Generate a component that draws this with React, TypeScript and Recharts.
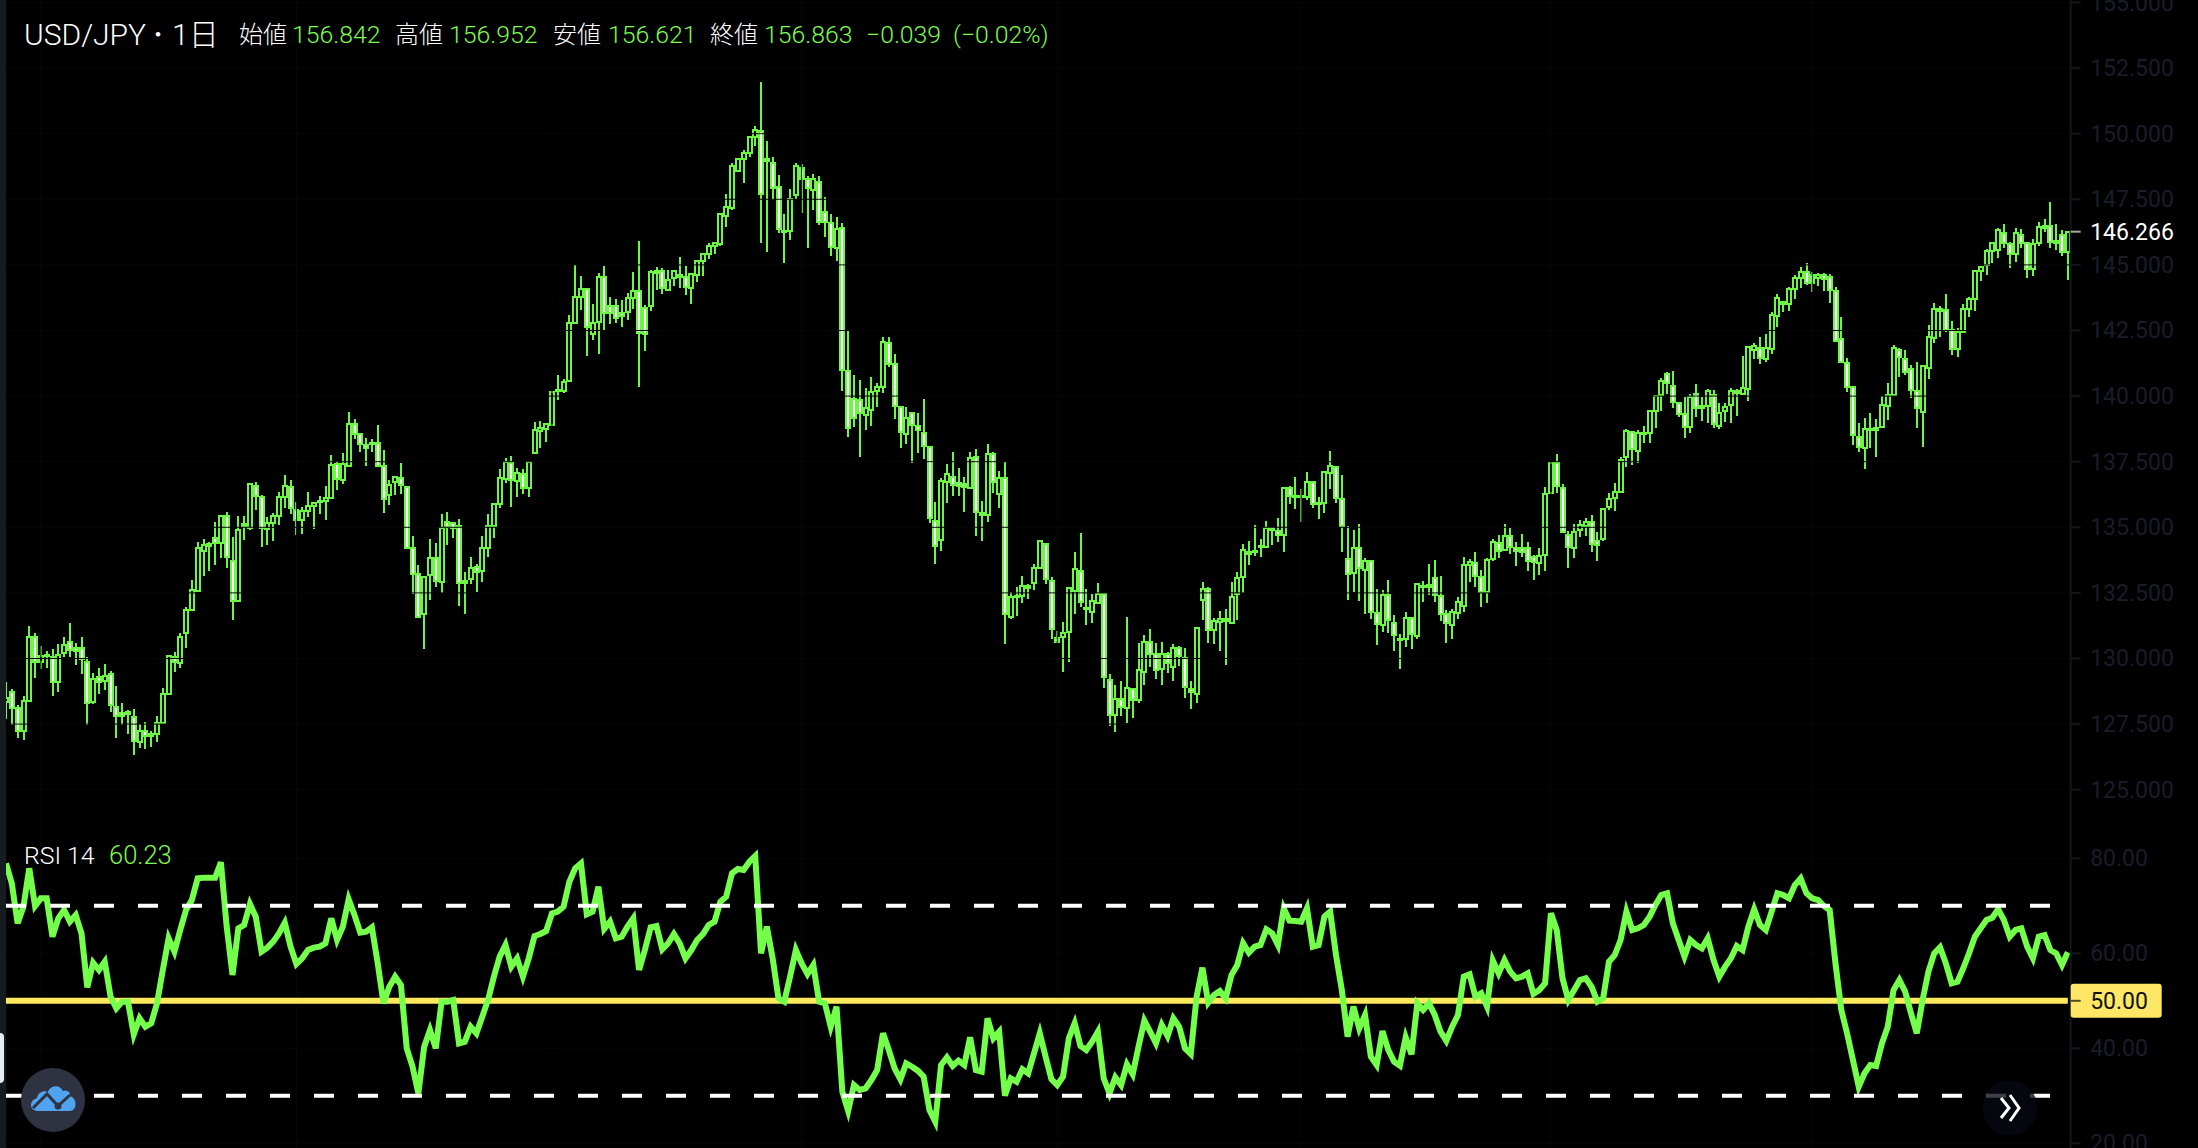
import React from "react";
import { ComposedChart, Bar, Line, XAxis, YAxis, ReferenceLine } from "recharts";

const opens = [
128.35,128.73,128.10,127.24,128.39,130.81,129.85,130.08,130.07,129.09,
130.20,130.64,130.39,130.41,129.88,128.33,129.28,129.14,129.40,128.16,
127.91,127.87,127.78,126.80,127.24,127.11,127.12,127.55,128.65,130.07,
129.81,130.96,131.85,132.58,134.11,134.30,134.60,134.42,135.44,133.73,
132.19,135.06,134.98,136.58,136.17,134.93,135.17,135.43,136.14,136.55,
135.66,135.28,135.63,135.83,135.95,136.01,136.10,137.41,136.80,137.33,
138.92,138.55,138.13,138.17,138.20,137.33,136.23,136.74,136.89,136.52,
134.22,133.22,131.69,133.18,133.84,132.93,135.21,135.15,135.06,132.86,
133.02,133.47,133.33,134.22,135.05,135.89,136.84,137.44,136.76,137.03,
136.51,137.82,138.67,138.75,138.90,140.18,140.21,140.58,142.78,143.79,
144.10,142.36,142.84,144.53,143.44,143.44,143.18,143.22,143.73,144.02,
143.35,143.44,144.68,144.78,144.05,144.49,144.55,144.53,144.11,144.62,
145.15,145.41,145.72,145.80,146.87,147.18,148.58,149.02,149.25,149.89,
150.12,149.03,148.90,147.96,146.31,146.29,147.67,148.68,148.26,147.86,
148.17,147.03,146.61,145.63,146.40,140.97,139.89,139.85,139.28,139.47,
140.20,140.34,142.04,141.22,139.58,138.56,139.37,138.87,138.61,138.05,
135.25,134.52,136.74,136.93,136.68,136.65,136.51,137.67,135.56,135.47,
137.78,136.27,136.89,131.57,132.33,132.38,132.68,132.87,133.44,134.37,
132.97,130.80,130.81,131.00,132.59,133.35,131.91,131.79,132.10,132.45,
129.18,127.83,128.46,128.11,128.84,128.42,129.48,130.61,130.16,129.59,
130.17,129.67,130.39,130.03,128.84,128.65,132.23,132.64,131.09,131.39,
131.51,131.37,132.46,133.12,134.07,134.04,134.26,134.26,134.96,134.84,
134.71,136.49,136.21,136.15,136.17,136.71,135.94,135.94,137.08,137.31,
136.08,133.78,133.25,134.20,133.37,133.73,131.75,131.28,132.42,131.37,
130.71,130.73,131.53,130.86,132.71,132.74,133.08,132.40,131.70,131.28,
131.72,132.00,133.56,133.65,133.09,132.55,133.78,134.41,134.13,134.68,
134.20,134.20,134.20,133.86,133.63,133.94,136.29,137.46,136.51,134.71,
134.20,134.90,135.05,135.19,134.49,134.54,135.79,136.10,136.36,137.67,
138.64,137.91,138.56,138.58,139.43,140.04,140.83,140.40,139.72,139.32,
138.81,140.08,139.62,139.62,140.05,138.86,139.43,139.66,140.10,140.08,
140.26,141.75,141.84,141.40,141.80,143.05,143.60,143.51,144.07,144.49,
144.74,144.62,144.49,144.62,144.55,144.00,142.17,141.28,140.34,138.46,
138.01,138.69,138.71,138.81,139.62,140.04,141.76,141.41,141.02,140.21,
139.41,141.06,142.20,143.25,143.28,142.50,141.78,142.46,143.31,143.69,
144.78,144.99,145.54,145.57,146.23,145.78,145.42,146.14,145.82,144.83,
145.85,146.39,146.50,145.91,146.14,145.50];

const closes = [
128.48,128.10,127.24,128.39,130.83,129.85,130.11,130.13,129.09,130.13,
130.51,130.32,130.30,129.97,128.32,129.22,129.12,129.34,128.23,127.81,
127.82,127.97,126.86,127.24,127.06,127.06,127.55,128.65,130.11,129.85,
130.81,131.85,132.61,134.22,134.32,134.35,134.42,135.43,133.88,132.19,
134.90,135.11,136.65,136.19,134.98,135.17,135.43,136.14,136.58,135.72,
135.28,135.63,135.82,135.91,136.00,136.10,137.37,136.84,137.41,138.92,
138.55,138.16,138.03,138.23,137.33,136.06,136.61,136.90,136.61,134.22,
133.22,131.59,133.09,133.84,132.95,134.98,135.02,134.96,132.86,132.95,
133.46,133.31,134.22,135.06,135.87,136.86,137.50,136.80,137.08,136.51,
137.50,138.71,138.77,138.94,140.17,140.24,140.55,142.80,143.77,144.07,
142.62,142.80,144.53,143.16,143.16,142.97,143.06,143.73,144.02,142.40,
142.36,144.72,144.78,144.11,144.43,144.78,144.62,144.15,144.66,145.13,
145.41,145.72,145.85,146.94,147.22,148.75,149.02,149.25,149.89,150.14,
147.69,148.97,147.92,146.36,146.26,147.50,148.75,148.26,147.92,148.26,
146.65,146.65,145.67,146.36,141.00,138.78,139.18,139.35,139.56,140.17,
140.36,142.07,141.23,139.63,138.65,139.16,138.90,138.71,138.10,135.34,
134.30,136.78,137.03,136.61,136.59,136.55,137.63,135.57,135.47,137.78,
136.72,136.89,131.70,132.36,132.40,132.77,132.78,133.46,134.48,133.02,
131.11,130.64,130.96,132.68,133.41,132.14,131.88,132.21,132.46,129.31,
127.85,128.46,128.17,128.87,128.42,129.57,130.64,130.16,129.57,130.17,
129.82,130.39,130.11,128.90,128.74,131.15,132.64,131.09,131.41,131.50,
131.41,132.36,133.06,134.14,133.97,134.10,134.29,134.96,134.90,134.71,
136.49,136.21,136.17,136.19,136.71,135.89,135.91,137.12,137.35,136.10,
135.06,133.21,134.22,133.44,133.72,131.79,131.30,132.42,131.47,130.90,
130.75,131.53,130.93,132.83,132.76,132.80,132.42,131.70,131.34,131.76,
132.17,133.56,133.66,133.14,132.55,133.75,134.45,134.11,134.67,134.24,
134.11,134.05,133.72,133.69,133.91,136.27,137.44,136.57,134.81,134.24,
134.83,135.09,135.21,134.35,134.33,135.70,136.08,136.36,137.56,138.68,
137.98,138.58,138.60,139.43,140.00,140.57,140.49,139.79,139.30,138.81,
139.95,139.56,139.56,140.21,138.92,139.37,139.60,140.21,140.21,140.29,
141.88,141.92,141.44,141.82,143.09,143.73,143.51,144.07,144.49,144.74,
144.32,144.30,144.62,144.46,144.04,142.10,141.31,140.34,138.52,138.05,
138.75,138.75,138.77,139.66,140.04,141.82,141.48,140.91,140.23,139.54,
141.16,142.27,143.31,143.31,142.52,141.78,142.46,143.32,143.69,144.78,
144.93,145.54,145.82,146.33,145.82,145.42,146.23,145.85,144.83,145.80,
146.43,146.50,145.89,145.82,145.50,146.27];

const highs = [
129.12,128.82,128.23,128.57,131.24,130.96,130.48,130.29,130.35,130.54,
130.81,131.34,130.58,130.81,130.04,129.43,129.62,129.78,129.52,128.95,
128.29,128.04,128.06,127.50,127.57,127.24,127.81,128.86,130.13,130.23,
130.96,131.97,132.99,134.45,134.54,134.45,135.19,135.43,135.57,134.64,
135.43,135.43,136.67,136.71,136.23,135.38,135.53,136.36,136.99,136.80,
135.97,135.78,136.33,135.97,136.20,136.57,137.75,137.52,137.85,139.38,
139.11,138.55,138.39,138.36,138.90,137.94,136.80,136.93,137.44,136.55,
134.67,133.56,133.12,134.54,134.39,135.49,135.57,135.21,135.30,133.28,
133.88,133.59,134.67,135.49,135.89,137.21,137.63,137.72,137.25,137.21,
137.50,139.00,139.06,138.99,140.20,140.81,140.64,143.09,145.00,144.58,
144.11,143.50,144.68,144.96,143.79,143.69,143.67,143.92,144.74,145.91,
143.46,144.81,144.91,144.87,144.81,144.78,145.29,144.96,144.68,145.13,
145.47,145.82,145.89,146.97,147.69,148.87,149.09,149.38,149.89,150.29,
151.96,149.72,149.10,148.43,146.94,147.88,148.87,148.83,148.39,148.45,
148.40,147.58,146.94,146.82,146.58,142.48,140.81,140.62,140.30,140.72,
140.49,142.24,142.24,141.61,139.60,139.58,139.38,139.34,139.88,138.07,
135.98,136.87,137.41,137.86,137.25,136.93,137.88,137.97,136.00,138.18,
137.86,137.15,137.48,132.52,132.74,133.15,132.83,133.60,134.52,134.42,
133.10,131.05,131.38,132.71,134.05,134.77,132.64,132.46,132.87,132.49,
129.40,129.00,129.15,131.57,128.87,130.58,130.90,131.11,130.58,130.62,
130.24,130.54,130.49,130.39,129.15,131.19,132.91,132.71,131.53,131.81,
131.88,132.91,133.31,134.37,134.48,135.09,134.56,135.24,135.03,135.34,
136.52,136.58,136.91,136.46,137.09,136.71,136.17,137.16,137.91,137.35,
137.00,135.05,134.90,135.13,133.82,133.75,132.64,132.61,132.99,131.66,
130.92,131.76,131.56,132.86,132.95,133.59,133.75,133.14,131.85,131.89,
132.36,133.86,133.79,134.05,133.37,133.82,134.54,134.71,135.11,134.96,
134.45,134.73,134.45,133.94,134.20,136.55,137.50,137.79,136.64,134.87,
135.13,135.28,135.34,135.47,134.83,135.72,136.32,136.67,137.69,138.73,
138.64,138.71,138.87,139.43,140.02,140.70,140.90,140.95,139.75,139.95,
140.08,140.45,139.98,140.26,140.23,139.72,139.75,140.29,140.26,141.53,
141.91,142.01,142.24,142.35,143.22,143.88,143.64,144.17,144.61,144.91,
145.06,144.74,144.70,144.70,144.64,144.17,143.00,141.44,140.36,138.96,
139.15,139.37,139.12,140.01,140.49,141.95,141.82,141.76,141.19,141.31,
141.16,142.71,143.53,143.43,143.88,142.87,142.58,143.50,143.76,144.80,
144.97,145.59,145.89,146.39,146.56,145.89,146.39,146.35,145.89,145.97,
146.62,146.74,147.38,146.56,146.33,146.27];

const lows = [
127.69,127.47,126.98,126.89,128.36,129.27,129.59,129.62,128.58,128.73,
130.07,130.07,129.75,129.41,127.47,128.27,128.65,128.80,127.97,126.98,
127.47,127.12,126.32,126.60,126.54,126.64,126.83,127.53,128.65,129.47,
129.62,130.41,131.85,132.58,133.15,133.35,133.56,133.82,133.46,131.47,
132.16,134.51,134.90,135.66,134.26,134.32,134.48,135.09,135.72,135.51,
134.70,134.74,135.40,134.93,135.50,135.28,136.10,136.42,136.65,137.33,
138.35,137.88,137.33,137.88,137.31,135.56,135.85,136.23,136.27,134.20,
132.46,131.57,130.37,132.23,132.74,132.48,134.32,134.58,132.00,131.69,
132.84,132.55,132.93,133.88,134.60,135.72,136.68,135.79,136.17,136.27,
136.17,137.78,138.03,138.26,138.85,139.86,140.11,140.55,142.74,143.28,
141.51,142.14,141.61,142.52,142.75,142.77,142.65,142.90,143.31,140.33,
141.72,143.26,144.05,143.89,144.05,144.20,144.11,143.86,143.51,144.36,
144.58,145.23,145.42,145.72,146.46,147.09,148.58,148.13,149.10,149.53,
145.85,145.51,147.47,146.23,145.09,145.95,147.50,146.99,145.66,147.09,
146.52,146.08,145.32,145.16,140.21,138.46,138.81,137.66,138.71,138.86,
139.58,140.13,141.10,139.14,138.04,138.18,137.46,137.85,137.62,135.18,
133.60,134.11,135.94,136.19,136.19,135.60,136.49,134.65,134.49,135.22,
136.30,135.75,130.56,131.51,131.62,132.13,132.28,132.61,133.44,132.84,
130.75,130.61,129.50,129.88,131.69,131.98,131.28,131.37,132.08,128.87,
127.44,127.18,127.79,127.53,127.75,128.32,129.00,129.67,129.22,129.00,
129.46,129.16,129.72,128.51,128.07,128.32,131.47,130.60,130.56,130.30,
129.76,131.34,131.47,132.49,133.57,133.91,133.88,134.24,134.33,134.45,
134.04,135.89,135.70,135.21,136.04,135.72,135.33,135.53,136.46,135.94,
134.07,132.23,132.52,132.19,131.70,131.51,130.52,131.02,130.96,130.30,
129.61,130.45,130.36,130.73,132.17,132.42,132.17,131.44,130.60,130.76,
131.51,131.78,132.93,132.71,131.98,132.13,133.73,133.84,134.11,133.98,
133.54,133.88,133.35,132.99,133.18,133.35,136.29,136.29,134.81,133.46,
133.84,134.62,134.67,134.07,133.73,134.49,135.66,135.63,136.32,137.29,
137.37,137.46,138.22,138.22,138.80,139.43,140.08,139.56,139.21,138.42,
138.58,139.21,139.06,138.99,138.77,138.73,139.02,138.99,139.25,140.04,
139.81,141.40,141.21,141.29,141.59,142.65,143.22,143.26,143.69,144.13,
144.23,143.98,144.20,144.02,143.56,142.07,141.27,140.14,138.14,137.88,
137.21,138.01,137.67,138.80,139.09,140.00,140.74,140.81,139.92,138.77,
138.05,140.65,142.04,142.24,142.46,141.57,141.50,142.43,143.00,143.26,
144.40,144.62,145.06,145.25,145.63,144.90,145.12,145.63,144.51,144.59,
145.72,146.27,145.63,145.57,145.34,144.43];

const rsiValues = [
78.94,74.73,66.31,69.82,77.89,69.96,71.57,71.57,63.5,67.36,
69.12,66.66,68.06,64.2,52.83,58.03,56.48,58.24,50.87,48.41,
49.82,49.82,42.94,46.31,44.55,45.26,49.47,56.48,63.15,60.34,
64.91,69.12,71.22,75.78,75.92,75.92,75.92,79.15,65.61,55.43,
65.26,65.96,70.38,67.71,60.34,61.19,62.45,64.2,66.45,61.4,
57.75,58.94,60.69,61.19,61.4,62.1,67.36,62.8,65.61,71.36,
68.06,64.34,64.55,65.47,57.89,49.47,52.97,55.08,53.33,39.99,
36.13,30.52,40.34,43.85,39.99,49.82,49.82,50.17,41.05,41.4,
44.55,43.15,46.66,50.17,55.08,59.29,61.75,57.19,58.94,55.08,
58.94,63.64,64.06,64.69,68.41,68.77,69.82,75.08,77.89,78.94,
68.2,68.77,74.03,65.12,66.66,63.15,63.5,65.61,67.36,56.48,
60.69,65.47,65.75,60.84,62.1,64.06,62.1,58.94,60.69,62.8,
64.06,65.96,66.66,70.87,71.92,76.84,77.75,
77.54,79.29,80.49,60.0,65.61,58.94,50.52,49.82,55.08,60.69,
57.89,55.64,57.54,49.82,49.47,44.55,48.77,30.87,26.8,32.27,
31.22,31.57,33.32,35.43,43.15,39.64,35.78,33.47,36.83,36.13,
35.29,34.03,27.01,24.55,36.48,38.1,36.27,37.4,36.48,42.31,
35.43,35.08,46.31,42.1,43.5,30.03,33.68,32.97,35.57,34.73,
38.94,43.15,38.24,33.47,32.27,34.03,42.1,45.26,40.48,39.64,
41.4,43.5,33.68,30.52,33.89,32.27,36.62,34.52,40.34,45.82,
43.5,41.05,44.91,42.59,46.31,44.55,39.99,38.8,50.87,56.98,
49.61,51.22,52.06,50.52,55.43,57.54,62.1,60.13,61.4,61.75,
65.05,64.2,61.75,69.47,66.87,66.8,66.66,69.47,61.4,61.75,
67.71,68.77,59.64,52.27,42.45,48.77,44.2,47.01,38.24,36.48,
43.64,39.64,37.18,36.34,42.31,38.73,49.47,48.06,49.47,47.01,
43.5,41.54,44.55,47.01,55.08,55.57,50.87,
51.57,48.77,58.45,55.78,58.59,56.13,54.73,55.08,55.78,51.43,
52.27,53.68,68.41,64.91,54.73,50.17,52.27,54.38,54.73,52.97,
49.82,50.52,58.24,59.64,62.8,68.77,64.91,65.26,65.96,67.71,
70.17,72.27,72.63,66.31,62.8,59.29,62.8,61.75,61.05,63.15,
58.59,55.08,57.19,58.94,61.54,60.69,65.61,69.26,65.96,64.91,
68.77,72.63,72.27,71.57,74.38,75.78,72.63,71.57,71.22,69.96,
69.12,57.89,48.06,43.15,37.54,31.92,34.73,36.48,36.27,41.05,
44.55,52.27,54.38,51.92,47.36,43.15,50.17,56.13,60.0,61.26,
57.89,53.68,54.03,56.84,60.0,63.5,65.26,67.01,67.5,69.26,
67.01,63.5,64.91,65.26,61.4,58.94,63.5,63.85,60.69,60.0,
57.54,60.23];

const priceTicks = [155, 152.5, 150, 147.5, 146.266, 145, 142.5, 140, 137.5, 135, 132.5, 130, 127.5, 125];
const lastPrice = 146.266;
const priceGrid = [155, 152.5, 150, 147.5, 145, 142.5, 140, 137.5, 135, 132.5, 130, 127.5, 125];
const rsiTicks = [80, 60, 50, 40, 20];
const rsiGrid = [80, 60, 40, 20];
const rsiUpper = 70;
const rsiMiddle = 50;
const rsiLower = 30;
const monthCandles = [6, 50, 94, 137, 181, 223, 266, 311];
const priceDomain = [123.464, 155.095];
const rsiDomain = [19.01, 85.96];

const headerItems = [
  { t: "USD/JPY", x: 24, c: "#ffffff", s: 30 },
  { t: "・", x: 146, c: "#ffffff", s: 24 },
  { t: "1日", x: 172, c: "#ffffff", s: 30 },
  { t: "始値", x: 239, c: "#ffffff", s: 24 },
  { t: "156.842", x: 292, c: "#7bfb50", s: 24.8 },
  { t: "高値", x: 395, c: "#ffffff", s: 24 },
  { t: "156.952", x: 449, c: "#7bfb50", s: 24.8 },
  { t: "安値", x: 553, c: "#ffffff", s: 24 },
  { t: "156.621", x: 608, c: "#7bfb50", s: 24.8 },
  { t: "終値", x: 710, c: "#ffffff", s: 24 },
  { t: "156.863", x: 764, c: "#7bfb50", s: 24.8 },
  { t: "−0.039", x: 866, c: "#7bfb50", s: 24.8 },
  { t: "(−0.02%)", x: 953, c: "#7bfb50", s: 24.8 },
];

const candleData = opens.map((open, i) => ({ i, open, close: closes[i], high: highs[i], low: lows[i], range: [lows[i], highs[i]] }));
const rsiData = rsiValues.map((rsi, i) => ({ i, rsi, mid: rsiMiddle }));

const CANDLE = "#6bf842";
const RSI = "#74ff4a";
const AXIS_TEXT = "#191d2a";
const GRID = "#070708";
const FONT = "Roboto, 'Noto Sans CJK JP', sans-serif";

function Candle(props: any) {
  const { x, y, width, height, payload } = props;
  const top = Math.min(y, y + height);
  const perUnit = Math.abs(height) / (payload.high - payload.low);
  const py = (p: number) => top + (payload.high - p) * perUnit;
  const cx = Math.round(x + width / 2);
  const up = payload.close >= payload.open;
  const yt = Math.round(py(Math.max(payload.open, payload.close)));
  const yb = Math.round(py(Math.min(payload.open, payload.close)));
  return (
    <g shapeRendering="crispEdges">
      <rect x={cx - 1} y={top} width={2} height={Math.abs(height)} fill={CANDLE} />
      <rect x={cx - 2} y={yt} width={4} height={Math.max(yb - yt, 1)} fill={up ? "#000000" : "#ffffff"} stroke={CANDLE} strokeWidth={2} />
    </g>
  );
}

function PriceTick(props: any) {
  const { x, y, payload } = props;
  const last = payload.value === lastPrice;
  return (
    <g>
      <line x1={x} x2={x + 10} y1={y} y2={y} stroke={last ? "#a8a8a8" : "#14161c"} strokeWidth={2} />
      <text x={x + 19.5} y={y + 8} fontFamily={FONT} fontSize={23} fill={last ? "#ffffff" : AXIS_TEXT}>
        {payload.value.toFixed(3)}
      </text>
    </g>
  );
}

function RsiTick(props: any) {
  const { x, y, payload } = props;
  const mid = payload.value === rsiMiddle;
  return (
    <g>
      {mid && <rect x={x} y={y - 17} width={91} height={34} rx={3} fill="#fde764" />}
      <line x1={x} x2={x + 10} y1={y} y2={y} stroke={mid ? "#4d4a20" : "#14161c"} strokeWidth={2} />
      <text x={x + 19.5} y={y + 8} fontFamily={FONT} fontSize={23} fill={mid ? "#111111" : AXIS_TEXT}>
        {payload.value.toFixed(2)}
      </text>
    </g>
  );
}

const margin = { top: 0, right: 0, bottom: 0, left: 3.1 };

export default function App() {
  return (
    <div style={{ position: "absolute", left: 0, top: 0, width: 2198, height: 1148, background: "#000", overflow: "hidden", fontFamily: FONT }}>
      <div style={{ position: "absolute", left: 0, top: 0 }}>
        <ComposedChart width={2198} height={830} data={candleData} margin={margin} barCategoryGap={0}>
          <XAxis dataKey="i" type="category" hide padding={{ left: 0, right: 0 }} />
          <YAxis
            orientation="right"
            width={127.3}
            domain={priceDomain}
            allowDataOverflow
            ticks={priceTicks}
            interval={0}
            tickLine={false}
            tickSize={0}
            tickMargin={0}
            axisLine={{ stroke: "#14161c", strokeWidth: 2 }}
            tick={<PriceTick />}
          />
          {priceGrid.map((v) => (
            <ReferenceLine key={v} y={v} stroke={GRID} strokeWidth={1} />
          ))}
          {monthCandles.map((v) => (
            <ReferenceLine key={v} x={v} stroke={GRID} strokeWidth={1} />
          ))}
          <Bar dataKey="range" shape={<Candle />} isAnimationActive={false} />
        </ComposedChart>
      </div>
      <div style={{ position: "absolute", left: 0, top: 830 }}>
        <ComposedChart width={2198} height={318} data={rsiData} margin={margin} barCategoryGap={0}>
          <XAxis dataKey="i" type="category" scale="band" hide padding={{ left: 0, right: 0 }} />
          <YAxis
            orientation="right"
            width={127.3}
            domain={rsiDomain}
            allowDataOverflow
            ticks={rsiTicks}
            interval={0}
            tickLine={false}
            tickSize={0}
            tickMargin={0}
            axisLine={{ stroke: "#14161c", strokeWidth: 2 }}
            tick={<RsiTick />}
          />
          {rsiGrid.map((v) => (
            <ReferenceLine key={v} y={v} stroke={GRID} strokeWidth={1} />
          ))}
          {monthCandles.map((v) => (
            <ReferenceLine key={v} x={v} stroke={GRID} strokeWidth={1} />
          ))}
          <Line dataKey="mid" type="linear" stroke="#ffe95c" strokeWidth={6} strokeLinecap="butt" dot={false} isAnimationActive={false} />
          <Line dataKey="rsi" type="linear" stroke={RSI} strokeWidth={6} dot={false} isAnimationActive={false} />
          <ReferenceLine y={rsiUpper} stroke="#ffffff" strokeWidth={4} strokeDasharray="20 24" strokeDashoffset={23.3} />
          <ReferenceLine y={rsiLower} stroke="#ffffff" strokeWidth={4} strokeDasharray="20 24" strokeDashoffset={23.3} />
        </ComposedChart>
      </div>

      {/* header */}
      {headerItems.map((h) => (
        <span key={h.x} style={{ position: "absolute", left: h.x, top: 35, transform: "translateY(-50%)", color: h.c, fontSize: h.s, fontWeight: 300, lineHeight: 1, whiteSpace: "nowrap" }}>
          {h.t}
        </span>
      ))}
      <span style={{ position: "absolute", left: 24, top: 856, transform: "translateY(-50%)", color: "#fff", fontSize: 24.8, fontWeight: 300, lineHeight: 1 }}>RSI 14</span>
      <span style={{ position: "absolute", left: 109, top: 856, transform: "translateY(-50%)", color: "#7bfb50", fontSize: 25.5, fontWeight: 300, lineHeight: 1 }}>60.23</span>

      {/* window chrome */}
      <div style={{ position: "absolute", left: 0, top: 0, width: 6, height: 1148, background: "#151c20" }} />
      <div style={{ position: "absolute", left: 0, top: 1033, width: 3.5, height: 50, background: "#e8ecef", borderRadius: "0 4px 4px 0" }} />
      <svg width={2198} height={1148} style={{ position: "absolute", left: 0, top: 0, pointerEvents: "none" }}>
        <circle cx={53} cy={1100} r={32} fill="#2f3241" />
        <path d="M37 1111 C30 1110 28 1101 37 1098 C38 1092 44 1090 48 1092 C50 1085 60 1084 63 1091 C67 1089 71 1093 70 1096 C77 1098 78 1110 70 1111 Z" fill="#50a3ee" />
        <polyline points="33,1108 47,1094 58,1106 70,1095" fill="none" stroke="#2f3241" strokeWidth={3} />
        <circle cx={58} cy={1106} r={3.5} fill="#2f3241" />
        <circle cx={2010} cy={1108} r={27.5} fill="#060812" fillOpacity={0.78} />
        <polyline points="2001,1098 2009,1108 2001,1118" fill="none" stroke="#fff" strokeWidth={3} />
        <polyline points="2010,1095 2019,1108 2010,1121" fill="none" stroke="#fff" strokeWidth={3} />
      </svg>
    </div>
  );
}
